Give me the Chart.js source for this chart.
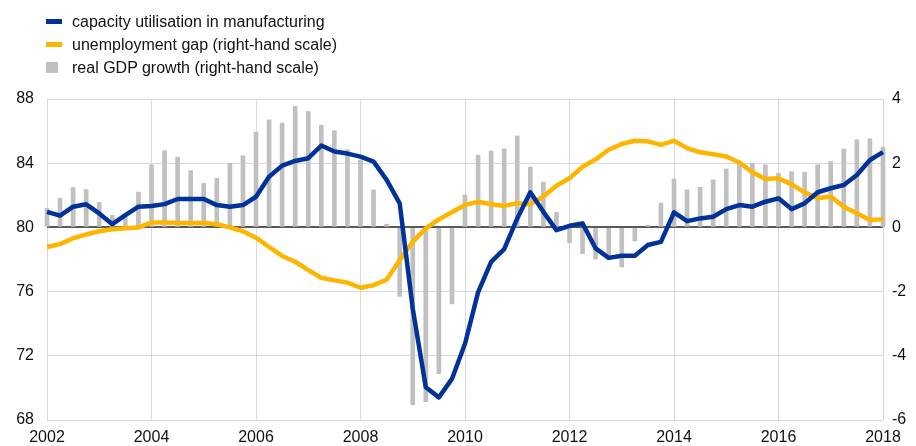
<!DOCTYPE html>
<html>
<head>
<meta charset="utf-8">
<script src="https://cdn.jsdelivr.net/npm/chart.js@4.4.0/dist/chart.umd.min.js"></script>
<style>
  html, body { margin: 0; padding: 0; background: #fff; }
  #wrap { position: relative; width: 916px; height: 446px; }
  #legend { position: absolute; left: 46px; top: 10px; font: 16px "Liberation Sans", Arial, sans-serif; color: #111; }
  .item { position: relative; height: 23px; line-height: 23px; padding-left: 26px; white-space: nowrap; }
  .sw { position: absolute; left: 0; }
</style>
</head>
<body>
<div id="wrap">
  <canvas id="chart" width="916" height="446"></canvas>
  <div id="legend">
    <div class="item"><span class="sw" style="top:9px;width:16px;height:5px;background:#003299"></span>capacity utilisation in manufacturing</div>
    <div class="item"><span class="sw" style="top:9px;width:16px;height:5px;background:#ffb400"></span>unemployment gap (right-hand scale)</div>
    <div class="item"><span class="sw" style="top:6px;width:12px;height:11px;background:#c0c0c0"></span>real GDP growth (right-hand scale)</div>
  </div>
</div>
<script>
// quarterly, 2002Q1 - 2018Q1
var quarters = [
  '2002Q1','2002Q2','2002Q3','2002Q4','2003Q1','2003Q2','2003Q3','2003Q4',
  '2004Q1','2004Q2','2004Q3','2004Q4','2005Q1','2005Q2','2005Q3','2005Q4',
  '2006Q1','2006Q2','2006Q3','2006Q4','2007Q1','2007Q2','2007Q3','2007Q4',
  '2008Q1','2008Q2','2008Q3','2008Q4','2009Q1','2009Q2','2009Q3','2009Q4',
  '2010Q1','2010Q2','2010Q3','2010Q4','2011Q1','2011Q2','2011Q3','2011Q4',
  '2012Q1','2012Q2','2012Q3','2012Q4','2013Q1','2013Q2','2013Q3','2013Q4',
  '2014Q1','2014Q2','2014Q3','2014Q4','2015Q1','2015Q2','2015Q3','2015Q4',
  '2016Q1','2016Q2','2016Q3','2016Q4','2017Q1','2017Q2','2017Q3','2017Q4',
  '2018Q1'
];

// capacity utilisation in manufacturing (left-hand scale)
var capacity = [
  80.97, 80.73, 81.29, 81.44, 80.87, 80.2, 80.77, 81.29,
  81.33, 81.45, 81.77, 81.77, 81.77, 81.39, 81.29, 81.39,
  81.91, 83.16, 83.85, 84.14, 84.31, 85.1, 84.73, 84.6,
  84.41, 84.1, 82.96, 81.5, 74.94, 70.04, 69.41, 70.56,
  72.75, 75.95, 77.85, 78.64, 80.56, 82.19, 80.97, 79.83,
  80.1, 80.25, 78.69, 78.1, 78.23, 78.23, 78.9, 79.1,
  80.94, 80.39, 80.56, 80.66, 81.14, 81.39, 81.29, 81.6,
  81.81, 81.14, 81.5, 82.19, 82.44, 82.64, 83.27, 84.2,
  84.69
];

// unemployment gap (right-hand scale)
var unempGap = [
  -0.61, -0.52, -0.34, -0.22, -0.12, -0.06, -0.03, 0.0,
  0.15, 0.15, 0.14, 0.14, 0.14, 0.10, 0.0, -0.12,
  -0.32, -0.61, -0.89, -1.07, -1.33, -1.57, -1.65, -1.72,
  -1.88, -1.80, -1.63, -1.02, -0.45, -0.03, 0.25, 0.47,
  0.70, 0.80, 0.72, 0.67, 0.75, 0.72, 0.96, 1.30,
  1.53, 1.89, 2.12, 2.42, 2.60, 2.70, 2.68, 2.57,
  2.70, 2.47, 2.34, 2.28, 2.21, 2.02, 1.72, 1.51,
  1.53, 1.34, 1.09, 0.91, 0.96, 0.64, 0.44, 0.23,
  0.25
];

// real GDP growth (right-hand scale)
var gdpGrowth = [
  0.59, 0.91, 1.24, 1.18, 0.78, 0.38, 0.33, 1.10,
  1.95, 2.39, 2.19, 1.77, 1.37, 1.53, 2.0, 2.23,
  2.97, 3.35, 3.25, 3.77, 3.61, 3.18, 3.01, 2.42,
  2.1, 1.17, 0.1, -2.15, -5.53, -5.43, -4.56, -2.38,
  1.01, 2.25, 2.38, 2.45, 2.85, 1.88, 1.41, 0.47,
  -0.48, -0.82, -0.99, -0.99, -1.23, -0.42, 0.07, 0.76,
  1.51, 1.17, 1.25, 1.48, 1.82, 1.97, 2.0, 1.95,
  1.69, 1.74, 1.72, 1.95, 2.05, 2.44, 2.73, 2.76,
  2.5
];

var FONT = { family: '"Liberation Sans", Arial, sans-serif', size: 16 };

var ctx = document.getElementById('chart').getContext('2d');
new Chart(ctx, {
  data: {
    labels: quarters,
    datasets: [
      {
        type: 'line',
        label: 'capacity utilisation in manufacturing',
        data: capacity,
        yAxisID: 'yLeft',
        borderColor: '#003299',
        borderWidth: 4.5,
        pointRadius: 0,
        tension: 0,
        borderJoinStyle: 'round',
        order: 1
      },
      {
        type: 'line',
        label: 'unemployment gap (right-hand scale)',
        data: unempGap,
        yAxisID: 'yRight',
        borderColor: '#ffb400',
        borderWidth: 4.5,
        pointRadius: 0,
        tension: 0,
        borderJoinStyle: 'round',
        order: 2
      },
      {
        type: 'bar',
        label: 'real GDP growth (right-hand scale)',
        data: gdpGrowth,
        yAxisID: 'yRight',
        backgroundColor: '#c0c0c0',
        barThickness: 4,
        clip: false,
        order: 3
      }
    ]
  },
  options: {
    responsive: false,
    animation: false,
    layout: { padding: { top: 99, left: 0, right: 0, bottom: 0 } },
    plugins: { legend: { display: false }, tooltip: { enabled: false } },
    scales: {
      x: {
        type: 'category',
        offset: false,
        border: { display: false },
        grid: {
          offset: false,
          drawTicks: false,
          lineWidth: 1,
          color: function (c) { return c.index % 8 === 0 ? '#d9d9d9' : 'rgba(0,0,0,0)'; }
        },
        ticks: {
          autoSkip: false,
          maxRotation: 0,
          padding: 8,
          color: '#111',
          font: FONT,
          callback: function (v, i) { return i % 8 === 0 ? this.getLabelForValue(v).slice(0, 4) : ''; }
        },
        afterFit: function (s) { s.height = 26; }
      },
      yLeft: {
        position: 'left',
        min: 68, max: 88,
        border: { display: false },
        grid: { display: false, drawTicks: false },
        ticks: { stepSize: 4, padding: 13, color: '#111', font: FONT },
        afterFit: function (s) { s.width = 47; }
      },
      yRight: {
        position: 'right',
        min: -6, max: 4,
        border: { display: false },
        grid: {
          drawTicks: false,
          color: function (c) { return c.tick.value === 0 ? '#595959' : '#d9d9d9'; },
          lineWidth: function (c) { return c.tick.value === 0 ? 2 : 1; }
        },
        ticks: { stepSize: 2, padding: 9, color: '#111', font: FONT },
        afterFit: function (s) { s.width = 33; }
      }
    }
  }
});
</script>
</body>
</html>
